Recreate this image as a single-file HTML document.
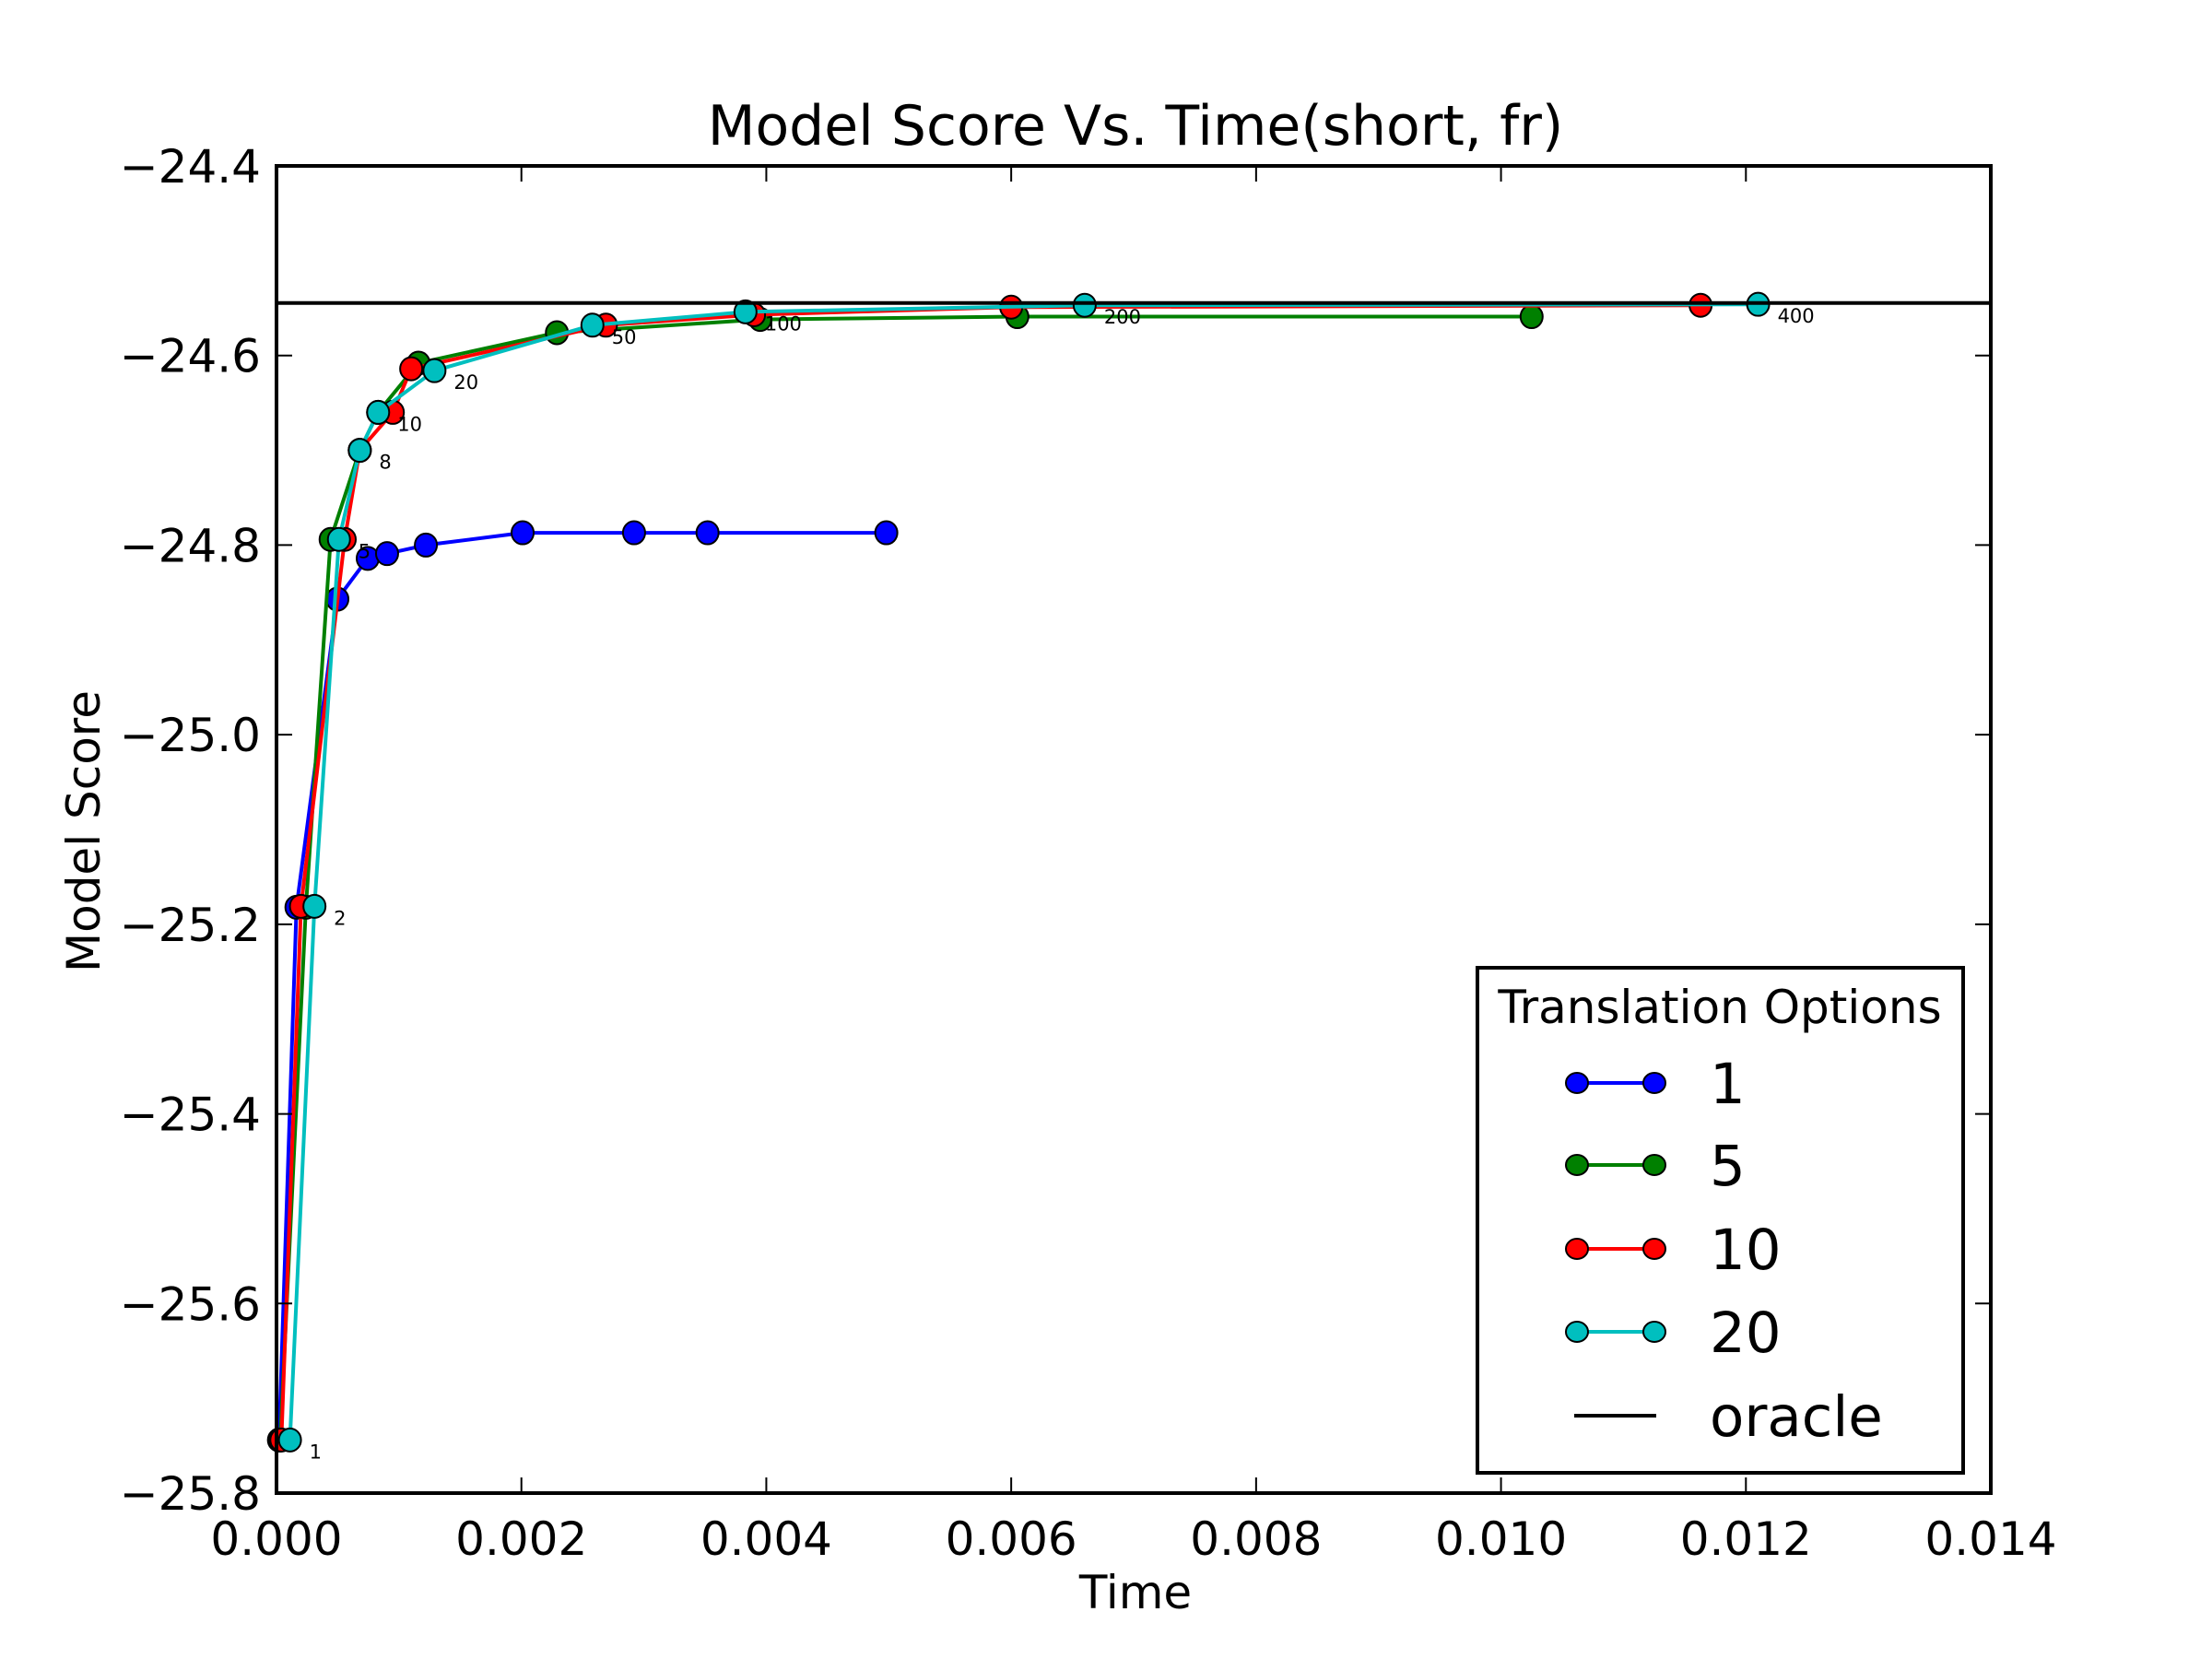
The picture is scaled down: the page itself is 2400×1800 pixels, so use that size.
<!DOCTYPE html>
<html><head><meta charset="utf-8"><style>
html,body{margin:0;padding:0;background:#fff;}
svg{display:block;}
text{font-family:"DejaVu Sans","Liberation Sans",sans-serif;}
</style></head><body>
<svg id="chart" width="2400" height="1800" viewBox="0 0 2400 1800" xmlns="http://www.w3.org/2000/svg">
<rect width="2400" height="1800" fill="#fff"/>
<text x="1232" y="157" font-size="60" text-anchor="middle">Model Score Vs. Time(short, fr)</text>
<text x="1232" y="1745" font-size="50" text-anchor="middle">Time</text>
<text x="0" y="0" font-size="50" text-anchor="middle" transform="translate(108,902) rotate(-90)">Model Score</text>
<g id="plot"></g>
<g id="axes"></g>
<g id="legend"></g>
</svg>
<script>
const xTicks = [0, 0.002, 0.004, 0.006, 0.008, 0.010, 0.012, 0.014];
const xTickLabels = ["0.000","0.002","0.004","0.006","0.008","0.010","0.012","0.014"];
const yTicks = [-24.4, -24.6, -24.8, -25.0, -25.2, -25.4, -25.6, -25.8];
const yTickLabels = ["\u221224.4","\u221224.6","\u221224.8","\u221225.0","\u221225.2","\u221225.4","\u221225.6","\u221225.8"];
const seriesNames = ["1","5","10","20"];
const seriesColors = ["#0000ff","#008000","#ff0000","#00bfbf"];
const optionLabels = ["1","2","5","8","10","20","50","100","200","400"];
const t1 = [0.00002,0.000163,0.000497,0.000745,0.000903,0.00122,0.00201,0.00292,0.00352,0.00498];
const v1 = [-25.744,-25.182,-24.857,-24.814,-24.809,-24.800,-24.787,-24.787,-24.787,-24.787];
const t5 = [0.00003,0.00024,0.000442,0.00068,0.00083,0.00116,0.00229,0.00395,0.00605,0.01025];
const v5 = [-25.744,-25.182,-24.794,-24.700,-24.660,-24.608,-24.576,-24.562,-24.559,-24.559];
const t10 = [0.00004,0.0002,0.000557,0.00068,0.00095,0.0011,0.00269,0.0039,0.0060,0.01163];
const v10 = [-25.744,-25.181,-24.794,-24.700,-24.660,-24.614,-24.568,-24.557,-24.549,-24.547];
const t20 = [0.00011,0.00031,0.00051,0.00068,0.00083,0.00129,0.00258,0.00383,0.0066,0.0121];
const v20 = [-25.744,-25.181,-24.794,-24.700,-24.660,-24.616,-24.568,-24.554,-24.547,-24.546];
const oracleValue = -24.5446;

const L=300,R=2160,T=180,B=1620;
const xMin=0,xMax=0.014,yMin=-25.8,yMax=-24.4;
function X(t){return L+(t-xMin)/(xMax-xMin)*(R-L);}
function Y(v){return T+(yMax-v)/(yMax-yMin)*(B-T);}
const NS="http://www.w3.org/2000/svg";
function mk(tag,attrs,parent){const e=document.createElementNS(NS,tag);for(const k in attrs)e.setAttribute(k,attrs[k]);parent.appendChild(e);return e;}
const plot=document.getElementById('plot');
const axes=document.getElementById('axes');
const legend=document.getElementById('legend');
const allT=[t1,t5,t10,t20], allV=[v1,v5,v10,v20];

for(let s=0;s<4;s++){
  const g=mk('g',{},plot);
  
  
  const pts=allT[s].map((t,i)=>X(t).toFixed(1)+','+Y(allV[s][i]).toFixed(1)).join(' ');
  const pl=mk('polyline',{points:pts,fill:'none',stroke:seriesColors[s],'stroke-width':4,'stroke-linejoin':'round'},g);
  
  
  for(let i=0;i<allT[s].length;i++){
    const c=mk('ellipse',{cx:X(allT[s][i]),cy:Y(allV[s][i]),rx:12,ry:12.5,fill:seriesColors[s],stroke:'#000','stroke-width':2},g);
    
    
  }
}
const ol=mk('line',{x1:L,x2:R,y1:Y(oracleValue),y2:Y(oracleValue),stroke:'#000','stroke-width':4},plot);


for(let i=0;i<optionLabels.length;i++){
  const tx=mk('text',{x:X(t20[i])+21,y:Y(v20[i])+20,'font-size':21},plot);
  tx.textContent=optionLabels[i];
  
  
}
const fr=mk('rect',{x:L,y:T,width:R-L,height:B-T,fill:'none',stroke:'#000','stroke-width':4},axes);


for(let i=0;i<xTicks.length;i++){
  const x=X(xTicks[i]);
  mk('line',{x1:x,x2:x,y1:B,y2:B-17,stroke:'#000','stroke-width':2},axes);
  mk('line',{x1:x,x2:x,y1:T,y2:T+17,stroke:'#000','stroke-width':2},axes);
  const tx=mk('text',{x:x,y:1687,'font-size':50,'text-anchor':'middle'},axes);
  tx.textContent=xTickLabels[i];
  
  
}
for(let i=0;i<yTicks.length;i++){
  const y=Y(yTicks[i]);
  mk('line',{x1:L,x2:L+17,y1:y,y2:y,stroke:'#000','stroke-width':2},axes);
  mk('line',{x1:R,x2:R-17,y1:y,y2:y,stroke:'#000','stroke-width':2},axes);
  const tx=mk('text',{x:283,y:y+18,'font-size':50,'text-anchor':'end'},axes);
  tx.textContent=yTickLabels[i];
  
  
}
const lb=mk('rect',{x:1603,y:1050,width:527,height:548,fill:'#fff',stroke:'#000','stroke-width':4},legend);


const lt=mk('text',{x:1866,y:1110,'font-size':50,'text-anchor':'middle'},legend);
lt.textContent='Translation Options';


const rowsY=[1175,1264,1355,1445];
for(let s=0;s<4;s++){
  const g=mk('g',{},legend);
  
  
  const y=rowsY[s];
  mk('line',{x1:1711,x2:1795,y1:y,y2:y,stroke:seriesColors[s],'stroke-width':4},g);
  mk('ellipse',{cx:1711,cy:y,rx:12,ry:11,fill:seriesColors[s],stroke:'#000','stroke-width':2},g);
  mk('ellipse',{cx:1795,cy:y,rx:12,ry:11,fill:seriesColors[s],stroke:'#000','stroke-width':2},g);
  const tx=mk('text',{x:1855,y:y+22,'font-size':61},g);
  tx.textContent=seriesNames[s];
}
const og=mk('g',{},legend);


mk('line',{x1:1708,x2:1797,y1:1536,y2:1536,stroke:'#000','stroke-width':4},og);
const otx=mk('text',{x:1855,y:1558,'font-size':61},og);
otx.textContent='oracle';
</script>
</body></html>
